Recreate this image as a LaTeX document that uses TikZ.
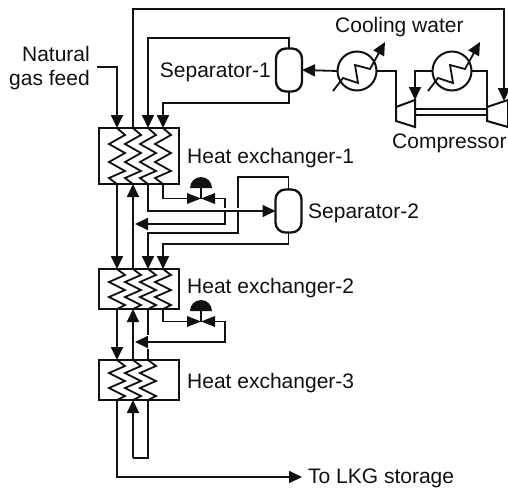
\documentclass[tikz,border=0pt]{standalone}
\usepackage{fontspec}
\setmainfont{Liberation Sans}
\usetikzlibrary{arrows.meta}
\definecolor{pfdblack}{HTML}{111111}
\newcommand{\hxcoilA}{(0,0) (8,7) (-8,16) (8,25) (-8,34) (8,43) (-8,50) (0,56)}
\newcommand{\hxcoilB}{(0,0) (8,6) (-8,13) (8,21) (-8,28) (8,36) (0,40)}
\begin{document}
\begin{tikzpicture}[x=1pt, y=-1pt, draw=pfdblack, text=pfdblack,
    lbl/.style={font=\fontsize{21}{25}\selectfont, inner sep=0pt, anchor=west},
    flow/.style={line width=1.8pt, -{Triangle[length=13pt,width=12pt]}},
    pipe/.style={line width=1.8pt},
    coil/.style={line width=1.8pt, line join=miter},
    hxbox/.style={draw, line width=2.5pt, fill=white, inner sep=0pt, outer sep=0pt, minimum width=80pt},
    sepbox/.style={draw, line width=2.3pt, rounded corners=10pt, inner sep=0pt, outer sep=0pt,
      minimum width=26pt, minimum height=43pt},
    coolerbox/.style={draw, circle, line width=2pt, inner sep=0pt, outer sep=0pt, minimum size=39pt},
    machine/.style={line width=2pt, line join=miter, fill=white},
    valve/.pic={
      \fill[pfdblack] (-14,-5.5) -- (14,5.5) -- (14,-5.5) -- (-14,5.5) -- cycle;
      \draw[line width=1.8pt] (0,0) -- (0,-11);
      \fill[pfdblack] (-11,-10.5) arc[start angle=180, end angle=360, radius=11] -- cycle;
      \coordinate (-l) at (-14,0);
      \coordinate (-r) at (14,0);
    }]
  \useasboundingbox (0,0) rectangle (508,488);

  % equipment
  \node[hxbox, minimum height=56pt] (hx1) at (139,156) {};
  \node[hxbox, minimum height=40pt] (hx2) at (139,289) {};
  \node[hxbox, minimum height=40pt] (hx3) at (139,380) {};
  \node[sepbox] (sep1) at (289,70) {};
  \node[sepbox] (sep2) at (288.5,211) {};
  \node[coolerbox] (cool1) at (357,71) {};
  \node[coolerbox] (cool2) at (452,71) {};
  \pic (v1) at (201,198.5) {valve};
  \pic (v2) at (201,321.5) {valve};

  % ports on the exchangers
  \foreach \n/\x in {a/117,b/133,c/148,d/163} {
    \coordinate (t1\n) at (\x,128);
    \coordinate (b1\n) at (\x,184);
    \coordinate (t2\n) at (\x,269);
    \coordinate (b2\n) at (\x,309);
    \coordinate (t3\n) at (\x,360);
    \coordinate (b3\n) at (\x,400);
  }
  \coordinate (feed) at (97,67);
  \coordinate (comp1in) at (396,107);
  \coordinate (comp1out) at (415,100);
  \coordinate (comp2in) at (487,107);
  \coordinate (comp2out) at (504,101);
  \coordinate (loopa) at (133,458);
  \coordinate (loopb) at (148,458);
  \coordinate (lkg) at (302,477);
  \coordinate (h2ret) at (135,224);
  \coordinate (h3ret) at (135,342);

  % coils
  \foreach \x in {117,133,148,163} {
    \draw[coil, shift={(\x,128)}] plot coordinates {\hxcoilA};
    \draw[coil, shift={(\x,269)}] plot coordinates {\hxcoilB};
  }
  \foreach \x in {117,133,148}
    \draw[coil, shift={(\x,360)}] plot coordinates {\hxcoilB};

  % top section
  \draw[flow] (feed) -| (t1a);
  \draw[flow] (t1b) |- (504,9) -- (comp2out);
  \draw[flow] (sep1.north) |- (148,38) -- (t1c);
  \draw[flow] (sep1.south) |- (163,103) -- (t1d);
  \draw[flow] (cool1.west) -- (sep1.east);
  \draw[pipe] (cool1.east) -| (comp1in);
  \draw[flow] (cool2.west) -| (comp1out);
  \draw[pipe] (cool2.east) -| (comp2in);

  % between the first two exchangers
  \draw[flow] (b1a) -- (t2a);
  \draw[flow] (t2b) -- (b1b);
  \draw[pipe] (b1d) |- (v1-l);
  \draw[flow] (v1-r) -| (225,224) -- (h2ret);
  \draw[flow] (sep2.north) |- (238,177) |- (148,233) -- (t2c);
  \draw[flow] (sep2.south) |- (163,244) -- (t2d);
  \draw[white, line width=4.5pt] (216,210) -- (248,210);
  \draw[flow] (b1c) |- (sep2.west);

  % between the last two exchangers
  \draw[flow] (b2a) -- (t3a);
  \draw[flow] (t3b) -- (b2b);
  \draw[pipe] (b2c) -- (148,335);
  \draw[pipe] (148,349) -- (t3c);
  \draw[pipe] (b2d) |- (v2-l);
  \draw[flow] (v2-r) -| (225,342) -- (h3ret);

  % below the last exchanger
  \draw[flow] (b3a) |- (lkg);
  \draw[pipe] (b3c) -- (loopb) -- (loopa);
  \draw[flow] (loopa) -- (b3b);

  % coolers and compressors
  \foreach \c in {cool1,cool2}
    \draw[coil, -{Triangle[length=13pt,width=12pt]}, shift={(\c)}]
      (-24,20) -- (-14,7) -- (1,12) -- (-2,-6) -- (13,-2) -- (28,-29);
  \draw[pipe] (415,109) -- (487,109) (415,115) -- (487,115);
  \draw[machine] (comp1in) -- (415,100) -- (415,127) -- (396,121) -- cycle;
  \draw[machine] (comp2in) -- (508,100) -- (508,127) -- (487,121) -- cycle;

  % labels
  \node[lbl, anchor=east] (lnat) at (90,54) {Natural};
  \node[lbl, anchor=east] (lgas) at (90,80) {gas feed};
  \node[lbl, anchor=east] (lsep1) at (271,72) {Separator-1};
  \node[lbl] (lsep2) at (308,213) {Separator-2};
  \node[lbl] (lcool) at (335,27) {Cooling water};
  \node[lbl] (lcomp) at (392,143) {Compressor};
  \node[lbl] (lhx1) at (187,158) {Heat exchanger-1};
  \node[lbl] (lhx2) at (187,288) {Heat exchanger-2};
  \node[lbl] (lhx3) at (187,383) {Heat exchanger-3};
  \node[lbl] (llkg) at (308,478) {To LKG storage};
\end{tikzpicture}
\end{document}
